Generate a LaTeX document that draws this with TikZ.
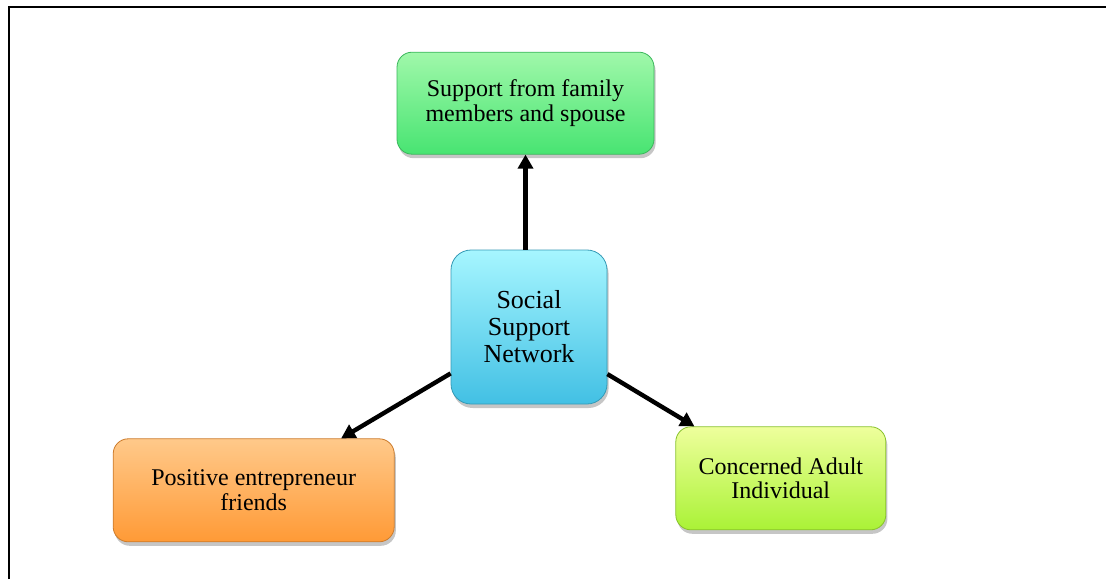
\documentclass[tikz,border=0pt]{standalone}
\usepackage{fontspec}
\setmainfont{Liberation Serif}
\usepackage{tikz}
\usetikzlibrary{positioning,shadows,arrows.meta}

\definecolor{famtop}{HTML}{A0F8AA}
\definecolor{fambot}{HTML}{48E472}
\definecolor{nettop}{HTML}{A6F6FF}
\definecolor{netbot}{HTML}{42C0E4}
\definecolor{postop}{HTML}{FFC98A}
\definecolor{posbot}{HTML}{FF9A36}
\definecolor{adutop}{HTML}{EEFF9C}
\definecolor{adubot}{HTML}{AAF236}

\begin{document}
\begin{tikzpicture}[main/.style = {rounded corners=7.5pt, align=center, inner sep=0pt, minimum height=51pt, font=\fontsize{12}{12.2}\selectfont, drop shadow={shadow xshift=0.8pt, shadow yshift=-2pt, opacity=0.45}}, link/.style = {line width=2.2pt, -{Triangle[length=7pt,width=7.5pt]}}]
\useasboundingbox (0,0) rectangle (553pt,289.5pt);
\draw[line width=1pt] (4.5pt,0) |- (553pt,286pt);
\node[main] (1) at (264.5pt,126pt) [minimum width=78pt, minimum height=77pt, rounded corners=10pt, font=\fontsize{13}{13.5}\selectfont][draw=netbot!80!black, top color=nettop, bottom color=netbot] {Social\\Support\\Network};
\node[main] (2) [above=47.5pt of 1, xshift=-1.75pt][minimum width=128.5pt][draw=fambot!80!black, top color=famtop, bottom color=fambot] {Support from family\\members and spouse};
\node[main] (3) [below left=17pt and 28pt of 1][minimum width=140.5pt, minimum height=51.5pt][draw=posbot!80!black, top color=postop, bottom color=posbot] {Positive entrepreneur\\friends};
\node[main] (4) [below right=11pt and 34pt of 1][minimum width=105pt, minimum height=51.5pt][draw=adubot!80!black, top color=adutop, bottom color=adubot] {Concerned Adult\\Individual};
\draw[link] (2 |- 1.north) -- (2);
\draw[link] (1) -- (3);
\draw[link] (1) -- (4);
\end{tikzpicture}
\end{document}
